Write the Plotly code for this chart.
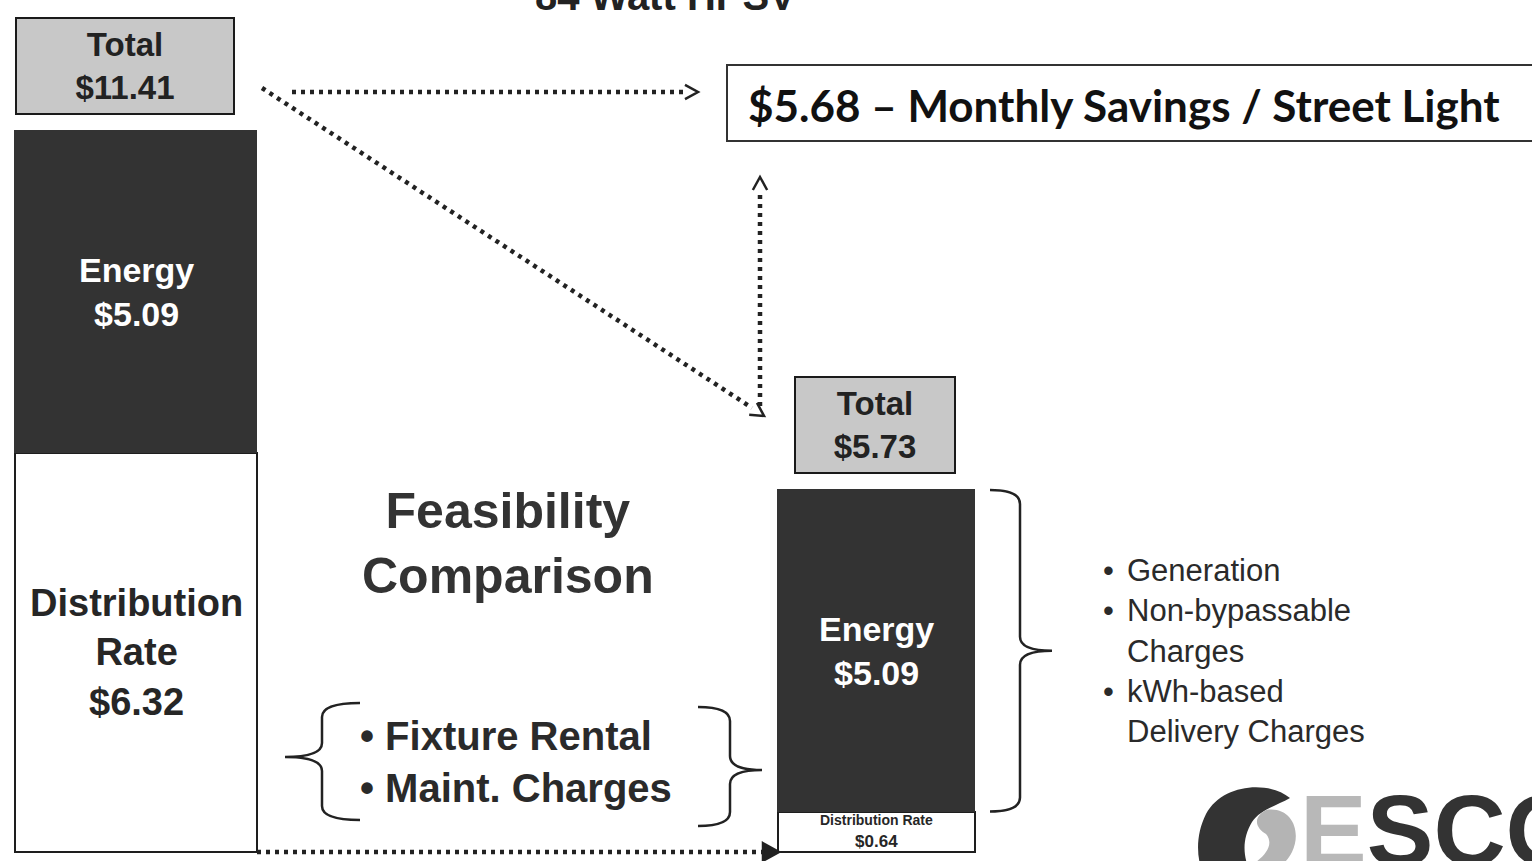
import math
import plotly.graph_objects as go

# ---------------- data ----------------
scenarios = ["Existing", "Proposed"]
distribution = [6.32, 0.64]
energy = [5.09, 5.09]
totals = [11.41, 5.73]
savings = 5.68
title_text = "84 Watt HPSV"
left_items = ["Fixture Rental", "Maint. Charges"]
right_items = ["Generation", "Non-bypassable|Charges", "kWh-based|Delivery Charges"]

# ---------------- layout constants ----------------
W, H = 1532, 861
BASE_PX, TOP_PX = 852, 131
bar_x = [136, 876.5]
bar_w = [242, 197]
box_x = [125, 875]
box_w = [210, 152]

s = (BASE_PX - TOP_PX) / max(totals)
ymin = -(H - BASE_PX) / s
ymax = ymin + H / s


def ypx(v):
    return H * (ymax - v) / (ymax - ymin)


DARK = "#333333"
TXT = "#262626"
FONT = "Liberation Sans, Arial, sans-serif"

fig = go.Figure()
fig.add_trace(go.Bar(x=bar_x, y=distribution, width=bar_w, name="Distribution Rate",
                     customdata=scenarios,
                     marker=dict(color="white", line=dict(color="#1e1e1e", width=2))))
fig.add_trace(go.Bar(x=bar_x, y=energy, width=bar_w, name="Energy",
                     customdata=scenarios,
                     marker=dict(color=DARK, line=dict(color=DARK, width=1))))

shapes = []
anns = []


def text(t, x, y, size, color=TXT, weight="bold", xanchor="center", yanchor="middle",
         align="center", yref="y2", family=FONT, **kw):
    anns.append(dict(text=t, x=x, y=y, xref="x", yref=yref, showarrow=False,
                     xanchor=xanchor, yanchor=yanchor, align=align,
                     font=dict(size=size, color=color, family=family, weight=weight), **kw))


def line(x0, y0, x1, y1, dotted=True, width=4.5, color="#222"):
    shapes.append(dict(type="line", xref="x", yref="y2", x0=x0, y0=y0, x1=x1, y1=y1,
                       line=dict(color=color, width=width,
                                 dash="4px,5px" if dotted else "solid")))


def path(d, fill=None, color="#222", width=2.5):
    shapes.append(dict(type="path", xref="x", yref="y2", path=d,
                       fillcolor=fill if fill else "rgba(0,0,0,0)",
                       line=dict(color=color, width=width if width else 0)))


def chevron(x, y, dx, dy, size=13, filled=False):
    L = math.hypot(dx, dy)
    ux, uy = dx / L, dy / L
    px_, py_ = -uy, ux
    bx, by = x - ux * size, y - uy * size
    a = (bx + px_ * size * 0.55, by + py_ * size * 0.55)
    b = (bx - px_ * size * 0.55, by - py_ * size * 0.55)
    d = f"M {a[0]},{a[1]} L {x},{y} L {b[0]},{b[1]}" + (" Z" if filled else "")
    path(d, fill="#222" if filled else None, width=2.5)


def brace(x_end, x_spine, x_tip, y_top, y_bot, y_mid):
    r = 14
    d = (f"M {x_end},{y_top} Q {x_spine},{y_top} {x_spine},{y_top + r} "
         f"L {x_spine},{y_mid - r} Q {x_spine},{y_mid} {x_tip},{y_mid} "
         f"Q {x_spine},{y_mid} {x_spine},{y_mid + r} "
         f"L {x_spine},{y_bot - r} Q {x_spine},{y_bot} {x_end},{y_bot}")
    path(d, width=2.5)


# ---- title (cut at top) ----
text(title_text, 665, 20, 40, color="#222", yanchor="bottom")

# ---- bar labels ----
for i in range(2):
    dmid = distribution[i] / 2
    emid = distribution[i] + energy[i] / 2
    text(f"Energy<br>${energy[i]:.2f}", bar_x[i], emid, 34, color="white", yref="y")
    if i == 0:
        text(f"Distribution<br>Rate<br>${distribution[i]:.2f}", bar_x[i], dmid, 38, yref="y")
    else:
        text(f"<span style='font-size:14px'>Distribution Rate</span><br>${distribution[i]:.2f}",
             bar_x[i], dmid, 17, yref="y")
    # total boxes
    anns.append(dict(text=f"Total<br>${totals[i]:.2f}", x=box_x[i], y=totals[i], xref="x", yref="y",
                     yanchor="bottom", yshift=16, showarrow=False, width=box_w[i], height=88,
                     bgcolor="#c8c8c8", bordercolor="#1a1a1a", borderwidth=2, borderpad=3,
                     font=dict(size=33, color="#222", family=FONT, weight="bold")))

# ---- positions derived from data ----
rtop = ypx(totals[1])
rbox_top = rtop - 16 - 100
arrow_end_y = rbox_top + 38
e_top = ypx(totals[1])
e_bot = ypx(distribution[1])

# ---- dotted arrows ----
line(292, 92, 688, 92)
chevron(698, 92, 1, 0)
line(262, 88, 752, arrow_end_y - 4)
chevron(764, arrow_end_y + 4, 762 - 262, arrow_end_y - 88)
line(760, arrow_end_y - 6, 760, 190)
chevron(760, 177, 0, -1)
line(257, BASE_PX, 764, BASE_PX)
chevron(779, BASE_PX, 1, 0, size=16, filled=True)

# ---- savings box ----
shapes.append(dict(type="rect", xref="x", yref="y2", x0=727, x1=1545, y0=65, y1=141,
                   fillcolor="white", line=dict(color="#333", width=2)))
text(f"${savings:.2f} – Monthly Savings / Street Light", 746, 105, 44, color="#111",
     xanchor="left", family="Lato, Open Sans, sans-serif", weight="bold")

# ---- feasibility label ----
text("Feasibility<br>Comparison", 508, 543, 50, color="#333")

# ---- fixture braces and text ----
brace(360, 322, 285, 703, 820, 757)
brace(698, 730, 762, 707, 826, 770)
text("<br>".join("• " + t for t in left_items), 358, 762, 40, color="#2a2a2a",
     xanchor="left", align="left")

# ---- energy brace and bullet list ----
ymid = (e_top + e_bot) / 2
brace(990, 1020, 1052, e_top, e_bot, ymid)
lines, bullets = [], []
for item in right_items:
    parts = item.split("|")
    for k, p in enumerate(parts):
        lines.append(p)
        bullets.append("•" if k == 0 else " ")
text("<br>".join(lines), 1125, ymid, 31, color="#2a2a2a", weight="normal",
     xanchor="left", align="left")
text("<br>".join(bullets), 1101, ymid, 31, color="#2a2a2a", weight="normal",
     xanchor="left", align="left")

# ---- logo ----
path("M 1290,798 C 1268,780 1222,784 1206,814 C 1192,842 1198,872 1212,890 L 1262,890 "
     "C 1245,870 1238,845 1252,822 C 1260,810 1276,806 1290,798 Z",
     fill=DARK, color=DARK, width=0)
path("M 1266,810 C 1292,806 1302,832 1292,852 C 1282,872 1258,880 1246,868 "
     "C 1262,860 1276,846 1266,834 C 1256,828 1252,818 1266,810 Z",
     fill="#b4b4b4", color="#b4b4b4", width=0)
text("<span style='color:#b8b8b8'>E</span>SCO", 1298, 772, 100, color="#333",
     xanchor="left", yanchor="top")

fig.update_layout(
    width=W, height=H, autosize=False,
    margin=dict(l=0, r=0, t=0, b=0),
    paper_bgcolor="white", plot_bgcolor="white",
    barmode="stack", bargap=0, showlegend=False,
    xaxis=dict(range=[0, W], visible=False, fixedrange=True),
    yaxis=dict(range=[ymin, ymax], visible=False, fixedrange=True),
    yaxis2=dict(range=[H, 0], overlaying="y", visible=False, fixedrange=True),
    shapes=shapes, annotations=anns,
)
fig.write_html("out.html", config=dict(displayModeBar=False),
               post_script="document.body.style.margin='0';document.body.style.overflow='hidden';")
